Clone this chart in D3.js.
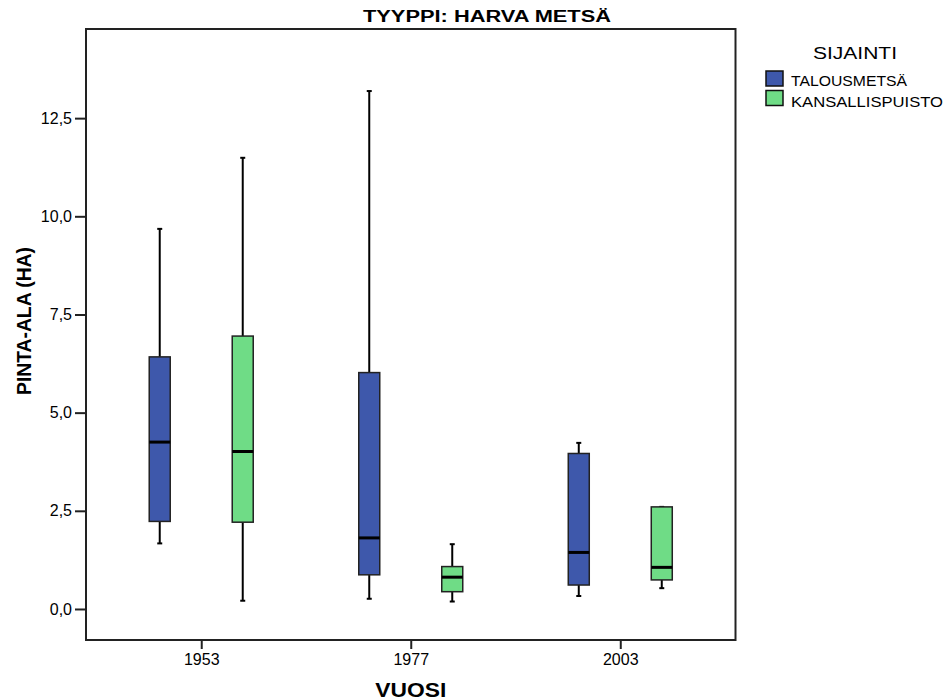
<!DOCTYPE html>
<html>
<head>
<meta charset="utf-8">
<script src="https://cdn.jsdelivr.net/npm/d3@7"></script>
<style>
  html, body { margin: 0; padding: 0; background: #fff; }
  text { font-family: "Liberation Sans", Arial, sans-serif; fill: #000; }
</style>
</head>
<body>
<svg id="chart" width="951" height="700"></svg>
<script>
const years = ["1953", "1977", "2003"];
const series = ["TALOUSMETSÄ", "KANSALLISPUISTO"];
const seriesColors = ["#3e58ab", "#6fdc86"];
// [min, q1, median, q3, max] per year
const talousmetsa = [
  [1.67, 2.23, 4.25, 6.42, 9.68],
  [0.26, 0.87, 1.81, 6.02, 13.19],
  [0.33, 0.61, 1.44, 3.96, 4.23]
];
const kansallispuisto = [
  [0.21, 2.21, 4.01, 6.95, 11.49],
  [0.19, 0.44, 0.81, 1.08, 1.65],
  [0.53, 0.74, 1.06, 2.60, 2.60]
];
const yTicks = [0, 2.5, 5, 7.5, 10, 12.5];
const titleText = "TYYPPI: HARVA METSÄ";
const xTitle = "VUOSI";
const yTitle = "PINTA-ALA (HA)";
const legendTitle = "SIJAINTI";

(function () {
const seriesData = [talousmetsa, kansallispuisto];
const rows = [];
years.forEach((yr, i) => {
  series.forEach((s, j) => {
    const v = seriesData[j][i];
    rows.push({year: yr, series: s, color: seriesColors[j], min: v[0], q1: v[1], med: v[2], q3: v[3], max: v[4]});
  });
});

const svg = d3.select("#chart");
const pl = 86, pr = 735.5, pt = 29, pb = 640;

const y = d3.scaleLinear().domain([-0.79, 14.77]).range([pb, pt]);
const x = d3.scalePoint().domain(years).range([pl, pr]).padding(0.55);
const xs = d3.scalePoint().domain(series).range([-41.5, 41.5]);
const boxW = 21, capW = 5;

const fmt = d3.formatLocale({decimal: ",", thousands: " ", grouping: [3], currency: ["", ""]}).format(".1f");

// Y axis
const yAxis = d3.axisLeft(y).tickValues(yTicks).tickFormat(fmt).tickSize(11).tickPadding(3);
const gy = svg.append("g").attr("transform", `translate(${pl},0)`).call(yAxis);
gy.select(".domain").remove();
gy.selectAll(".tick line").attr("stroke", "#222").attr("stroke-width", 2);
gy.selectAll(".tick text").attr("font-size", 16).attr("font-family", "Liberation Sans, Arial, sans-serif").attr("fill", "#222");

// X axis
const xAxis = d3.axisBottom(x).tickSize(9).tickPadding(5);
const gx = svg.append("g").attr("transform", `translate(0,${pb})`).call(xAxis);
gx.select(".domain").remove();
gx.selectAll(".tick line").attr("stroke", "#222").attr("stroke-width", 2);
gx.selectAll(".tick text").attr("font-size", 16).attr("font-family", "Liberation Sans, Arial, sans-serif").attr("fill", "#222");

// Frame
svg.append("rect").attr("x", pl).attr("y", pt).attr("width", pr - pl).attr("height", pb - pt)
  .attr("fill", "none").attr("stroke", "#222").attr("stroke-width", 2);

// Boxes
const g = svg.append("g");
const box = g.selectAll(".box").data(rows).enter().append("g")
  .attr("class", "box")
  .attr("transform", d => `translate(${x(d.year) + xs(d.series)},0)`);

box.append("line").attr("x1", 0).attr("x2", 0).attr("y1", d => y(d.q3)).attr("y2", d => y(d.max))
  .attr("stroke", "#000").attr("stroke-width", 2);
box.append("line").attr("x1", 0).attr("x2", 0).attr("y1", d => y(d.q1)).attr("y2", d => y(d.min))
  .attr("stroke", "#000").attr("stroke-width", 2);
box.append("line").attr("x1", -capW / 2).attr("x2", capW / 2).attr("y1", d => y(d.max)).attr("y2", d => y(d.max))
  .attr("stroke", "#000").attr("stroke-width", 2);
box.append("line").attr("x1", -capW / 2).attr("x2", capW / 2).attr("y1", d => y(d.min)).attr("y2", d => y(d.min))
  .attr("stroke", "#000").attr("stroke-width", 2);
box.append("rect").attr("x", -boxW / 2).attr("width", boxW)
  .attr("y", d => y(d.q3)).attr("height", d => y(d.q1) - y(d.q3))
  .attr("fill", d => d.color).attr("stroke", "#222").attr("stroke-width", 1.5);
box.append("line").attr("x1", -boxW / 2).attr("x2", boxW / 2).attr("y1", d => y(d.med)).attr("y2", d => y(d.med))
  .attr("stroke", "#000").attr("stroke-width", 3);

// Title
svg.append("text").attr("x", 487).attr("y", 22).attr("text-anchor", "middle")
  .attr("font-size", 16).attr("font-weight", "bold")
  .attr("textLength", 248).attr("lengthAdjust", "spacingAndGlyphs")
  .text(titleText);

// Axis titles
svg.append("text").attr("x", (pl + pr) / 2).attr("y", 697).attr("text-anchor", "middle")
  .attr("font-size", 20).attr("font-weight", "bold")
  .attr("textLength", 71).attr("lengthAdjust", "spacingAndGlyphs")
  .text(xTitle);
svg.append("text").attr("transform", "translate(31,321) rotate(-90)").attr("text-anchor", "middle")
  .attr("font-size", 20).attr("font-weight", "bold")
  .attr("textLength", 148).attr("lengthAdjust", "spacingAndGlyphs")
  .text(yTitle);

// Legend
svg.append("text").attr("x", 855).attr("y", 58.5).attr("text-anchor", "middle")
  .attr("font-size", 16).attr("textLength", 84).attr("lengthAdjust", "spacingAndGlyphs")
  .text(legendTitle);
const legendLens = [116, 152];
const lg = svg.append("g").selectAll("g").data(series).enter().append("g")
  .attr("transform", (d, i) => `translate(766,${71 + i * 19.5})`);
lg.append("rect").attr("width", 17).attr("height", 15)
  .attr("fill", (d, i) => seriesColors[i]).attr("stroke", "#111").attr("stroke-width", 1.5);
lg.append("text").attr("x", 25).attr("y", (d, i) => 14.5 + i * 1.5).attr("font-size", 14.5)
  .attr("textLength", (d, i) => legendLens[i]).attr("lengthAdjust", "spacingAndGlyphs")
  .text(d => d);
})();
</script>
</body>
</html>
